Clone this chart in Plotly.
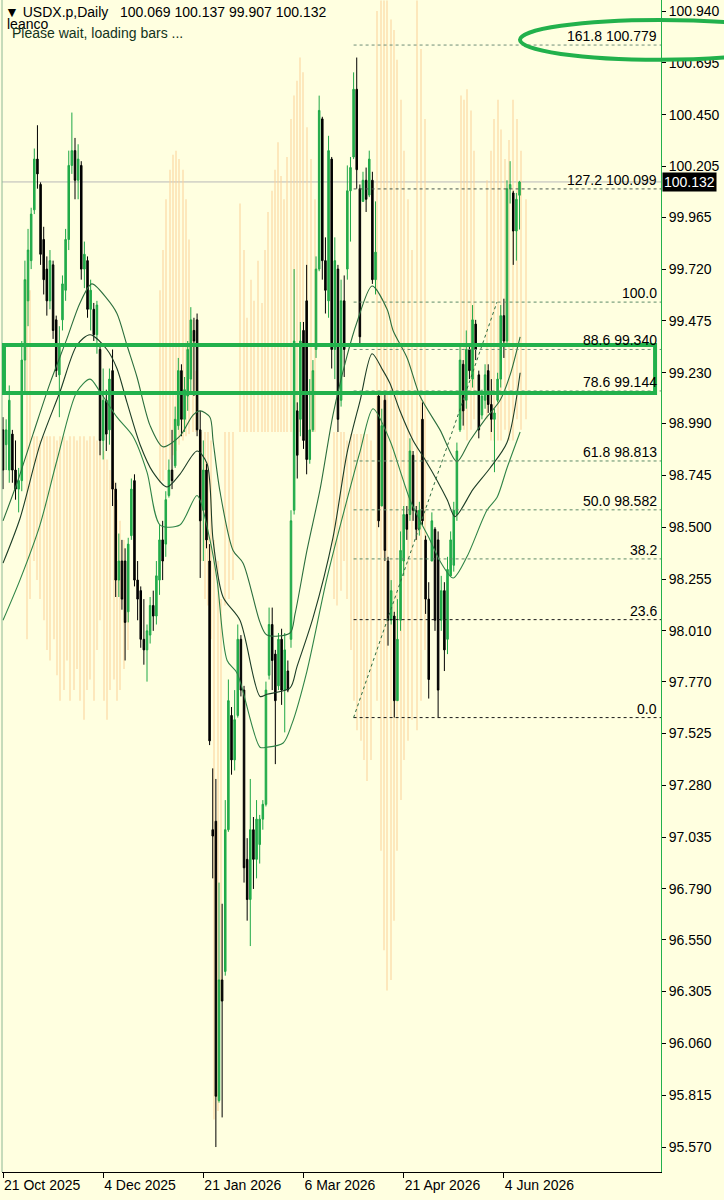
import plotly.graph_objects as go

# ---------------- data ----------------
tick_idx = [0, 32, 64, 96, 128, 160]
tick_dates = ["21 Oct 2025", "4 Dec 2025", "21 Jan 2026", "6 Mar 2026", "21 Apr 2026", "4 Jun 2026"]

price_ticks = [100.940, 100.695, 100.450, 100.205, 99.965, 99.720, 99.475, 99.230, 98.990,
               98.745, 98.500, 98.255, 98.010, 97.770, 97.525, 97.280, 97.035, 96.790,
               96.550, 96.305, 96.060, 95.815, 95.570]
price_tick_text = ["100.940", "100.695", "100.450", "100.205", "99.965", "99.720", "99.475",
                   "99.230", "98.990", "98.745", "98.500", "98.255", "98.010", "97.770",
                   "97.525", "97.280", "97.035", "96.790", "96.550", "96.305", "96.060",
                   "95.815", "95.570"]

opens = [98.96, 98.89, 98.77, 98.94, 98.77, 98.68, 98.72, 99.29, 99.57, 99.76,
         100.00, 100.24, 100.12, 99.86, 99.72, 99.57, 99.74, 99.48, 99.22, 99.48,
         99.62, 99.86, 100.21, 100.28, 100.14, 100.21, 99.72, 99.76, 99.53, 99.53,
         99.41, 99.34, 98.91, 99.10, 98.96, 99.24, 98.68, 98.25, 98.34, 98.34,
         98.10, 98.46, 98.72, 98.25, 98.20, 97.97, 97.92, 97.99, 98.13, 98.08,
         98.25, 98.44, 98.42, 98.65, 98.77, 98.79, 98.98, 99.24, 99.01, 99.12,
         99.20, 99.43, 99.48, 98.96, 98.58, 98.77, 98.34, 97.07, 97.11, 95.79,
         96.36, 96.40, 97.07, 97.61, 97.40, 97.61, 97.97, 97.73, 96.93, 96.74,
         97.07, 96.93, 97.00, 97.12, 97.19, 97.80, 98.04, 97.90, 97.75, 97.97,
         97.73, 97.82, 97.97, 98.58, 99.05, 99.01, 99.43, 99.57, 98.82, 98.96,
         99.34, 99.72, 100.43, 99.76, 99.57, 100.24, 99.34, 99.72, 99.10, 99.57,
         99.72, 100.09, 100.25, 100.57, 100.10, 100.04, 100.14, 100.07, 100.14, 99.67,
         99.12, 98.60, 99.10, 98.34, 98.06, 98.08, 97.68, 98.06, 98.34, 98.56,
         98.56, 98.84, 98.58, 98.49, 99.01, 98.44, 98.16, 98.34, 98.49, 98.44,
         98.06, 98.20, 97.97, 98.27, 98.32, 98.56, 98.96, 99.27, 99.10, 99.34,
         99.20, 99.46, 99.22, 99.03, 99.10, 99.24, 99.08, 99.01, 99.10, 99.20,
         99.50, 99.38, 100.10, 100.08, 99.90, 100.069]
highs = [99.02, 99.01, 99.17, 98.96, 98.91, 98.78, 99.38, 99.76, 99.91, 100.01,
         100.29, 100.40, 100.13, 99.92, 99.78, 99.81, 99.76, 99.50, 99.45, 99.69,
         99.91, 100.28, 100.46, 100.34, 100.31, 100.23, 99.85, 99.78, 99.67, 99.56,
         99.57, 99.36, 99.25, 99.15, 99.25, 99.34, 98.71, 98.47, 98.44, 98.40,
         98.45, 98.73, 98.75, 98.34, 98.22, 98.16, 98.04, 98.17, 98.20, 98.34,
         98.51, 98.53, 98.67, 98.82, 98.96, 99.07, 99.30, 99.27, 99.21, 99.38,
         99.54, 99.49, 99.51, 99.05, 98.91, 98.80, 98.42, 97.36, 97.31, 96.82,
         96.72, 97.21, 97.78, 97.65, 97.73, 98.04, 97.99, 97.75, 97.03, 97.31,
         97.13, 97.21, 97.14, 97.21, 97.77, 98.12, 98.12, 97.92, 98.00, 98.02,
         98.00, 97.87, 98.58, 99.72, 99.09, 99.47, 99.47, 99.74, 99.20, 99.29,
         99.78, 100.54, 100.44, 99.87, 100.35, 100.25, 99.87, 99.74, 99.67, 99.69,
         100.21, 100.25, 100.65, 100.72, 100.12, 100.18, 100.20, 100.28, 100.18, 100.04,
         99.14, 99.06, 99.14, 98.36, 98.25, 98.10, 98.16, 98.48, 98.60, 98.60,
         98.92, 98.86, 98.60, 98.62, 99.09, 98.46, 98.24, 98.57, 98.50, 98.48,
         98.27, 98.24, 98.36, 98.48, 98.62, 98.90, 99.37, 99.29, 99.43, 99.36,
         99.55, 99.48, 99.24, 99.15, 99.27, 99.27, 99.20, 99.06, 99.23, 99.55,
         99.58, 100.14, 100.23, 100.09, 100.08, 100.137]
lows = [98.68, 98.77, 98.71, 98.71, 98.63, 98.57, 98.67, 99.14, 99.45, 99.72,
        99.98, 100.10, 99.74, 99.60, 99.50, 99.53, 99.39, 99.21, 99.02, 99.43,
        99.57, 99.81, 100.17, 100.05, 100.05, 99.67, 99.63, 99.49, 99.43, 99.38,
        99.32, 98.84, 98.82, 98.86, 98.89, 98.60, 98.17, 98.17, 98.11, 97.87,
        98.05, 98.44, 98.22, 98.06, 97.93, 97.85, 97.77, 97.95, 98.01, 98.04,
        98.18, 98.25, 98.36, 98.64, 98.68, 98.78, 98.96, 98.93, 98.95, 99.05,
        99.14, 99.12, 98.93, 98.26, 98.34, 98.40, 97.47, 96.84, 95.57, 95.78,
        95.71, 96.38, 97.06, 97.33, 97.35, 97.60, 97.70, 96.82, 96.64, 96.52,
        96.79, 96.84, 96.91, 97.07, 97.18, 97.78, 97.73, 97.38, 97.73, 97.66,
        97.53, 97.72, 97.93, 98.56, 98.73, 98.93, 98.87, 98.75, 98.80, 98.95,
        99.30, 99.71, 99.67, 99.51, 99.49, 99.25, 99.20, 98.95, 99.07, 99.21,
        99.67, 99.85, 100.24, 100.10, 99.36, 100.04, 99.99, 100.06, 99.65, 99.60,
        98.50, 98.60, 98.34, 97.94, 98.04, 97.60, 97.68, 98.01, 98.27, 98.44,
        98.53, 98.53, 98.44, 98.46, 98.51, 98.09, 97.69, 98.34, 98.01, 97.60,
        98.01, 97.82, 97.90, 98.27, 98.29, 98.53, 98.95, 98.98, 99.06, 99.20,
        99.16, 99.29, 98.92, 99.01, 99.06, 99.04, 98.95, 98.76, 99.09, 99.16,
        99.30, 99.36, 100.03, 99.74, 99.76, 99.907]
closes = [98.77, 98.96, 99.10, 98.77, 98.68, 98.72, 99.29, 99.67, 99.81, 99.98,
          100.24, 100.17, 99.79, 99.67, 99.57, 99.76, 99.43, 99.24, 99.36, 99.65,
          99.86, 100.21, 100.28, 100.14, 100.24, 99.72, 99.79, 99.53, 99.62, 99.41,
          99.55, 98.91, 99.10, 98.94, 99.20, 98.68, 98.25, 98.34, 98.16, 98.05,
          98.42, 98.68, 98.25, 98.16, 97.97, 97.92, 98.01, 98.13, 98.08, 98.27,
          98.44, 98.34, 98.63, 98.77, 98.72, 99.01, 99.24, 99.01, 99.15, 99.34,
          99.48, 99.38, 98.96, 98.53, 98.77, 98.44, 97.49, 97.04, 95.81, 96.36,
          96.26, 97.07, 97.68, 97.40, 97.59, 97.97, 97.73, 96.89, 96.74, 97.07,
          96.93, 97.12, 97.12, 97.19, 97.73, 98.04, 97.87, 97.68, 97.97, 97.73,
          97.92, 97.73, 98.53, 99.38, 98.84, 99.38, 98.91, 98.82, 98.96, 99.24,
          99.72, 100.47, 99.76, 99.62, 100.28, 99.34, 99.76, 99.01, 99.57, 99.34,
          100.09, 100.20, 100.57, 100.19, 99.40, 100.14, 100.05, 100.24, 99.67, 99.80,
          98.53, 98.98, 98.39, 98.06, 98.20, 97.68, 97.97, 98.39, 98.56, 98.49,
          98.86, 98.58, 98.49, 98.58, 98.53, 98.16, 97.78, 98.53, 98.06, 97.73,
          98.20, 97.92, 98.30, 98.44, 98.58, 98.86, 99.29, 99.05, 99.34, 99.24,
          99.48, 99.34, 98.96, 99.12, 99.22, 99.08, 99.01, 99.04, 99.20, 99.50,
          99.38, 100.10, 100.12, 99.90, 100.05, 100.132]

# moving-average style envelope curves (bar index, price)
ma_top_x = [0, 4.5, 9.6, 15, 20.4, 24.6, 28.4, 33.2, 36.4, 39.6, 42.8, 47, 51.1, 56.5, 60.7,
            63, 66.1, 67.1, 69.3, 73.5, 76.7, 82.1, 84.3, 91.7, 93.3, 97.1, 101.3, 105.4,
            109.9, 113.1, 117.9, 122.7, 124.6, 129.1, 133.2, 139.6, 145, 149.2, 154,
            158.8, 162, 165.2]
ma_top_y = [98.53, 98.71, 98.94, 99.18, 99.39, 99.56, 99.65, 99.58, 99.51, 99.36, 99.21,
            98.98, 98.88, 98.93, 99.03, 99.05, 99.02, 98.91, 98.67, 98.39, 98.33, 98.05,
            97.99, 98.00, 98.09, 98.39, 98.68, 99.03, 99.31, 99.47, 99.64, 99.53, 99.43,
            99.30, 99.12, 98.96, 98.81, 98.91, 99.01, 99.10, 99.22, 99.40]
ma_mid_x = [0, 5.4, 11.8, 18.2, 23.6, 27.8, 33.2, 36.4, 39.6, 43.8, 47.9, 52.4, 56.5, 62,
            65.2, 67.1, 70.3, 75.7, 82.1, 84.3, 91.7, 93.9, 99, 105.4, 109.9, 114.1, 117.9,
            121.4, 123.6, 126.8, 131, 134.8, 138.7, 141.9, 144.4, 150.2, 155.6, 161, 165.2]
ma_mid_y = [98.33, 98.54, 98.89, 99.14, 99.36, 99.41, 99.34, 99.25, 99.09, 98.89, 98.76,
            98.69, 98.75, 98.86, 98.80, 98.44, 98.17, 98.06, 97.70, 97.71, 97.74, 97.84,
            98.07, 98.45, 98.85, 99.10, 99.32, 99.24, 99.18, 99.05, 98.91, 98.82, 98.72,
            98.63, 98.55, 98.68, 98.78, 98.90, 99.23]
ma_low_x = [0, 5.4, 11.8, 17.3, 23.6, 27.8, 31, 36.4, 41.5, 46, 50.2, 56.5, 62, 66.1, 68.4,
            71.6, 74.8, 82.1, 84.3, 89.5, 92.3, 97.1, 103.5, 109.9, 114.1, 118.2, 123.6,
            126.8, 130, 133.2, 136.4, 139.6, 143.8, 148.2, 154.6, 157.8, 161, 165.2]
ma_low_y = [98.06, 98.25, 98.51, 98.82, 99.14, 99.20, 99.14, 99.02, 98.93, 98.76, 98.51,
            98.51, 98.65, 98.44, 98.25, 97.87, 97.81, 97.46, 97.46, 97.48, 97.57, 97.82,
            98.26, 98.63, 98.86, 99.06, 98.91, 98.77, 98.63, 98.53, 98.44, 98.34, 98.26,
            98.36, 98.58, 98.64, 98.78, 98.95]

# faint orange background bars (bar index, top, bottom)
orange_x = [7.7, 8.6, 9.9, 10.9, 11.8, 13.1, 14.1, 15.0, 16.3, 17.3, 18.2, 19.5, 20.4, 21.4,
            22.7, 23.6, 24.6, 25.9, 26.8, 27.8, 29.1, 30.0, 31.0, 32.3, 33.2, 34.2, 35.5,
            36.4, 37.4, 38.7, 39.9,
            50.2, 51.1, 52.1, 53.4, 54.3, 55.3, 56.2, 57.5, 58.5, 59.4, 60.7, 61.7,
            63.3, 64.5, 65.5, 66.5, 67.4, 68.7, 69.6, 70.9, 72.2, 73.5,
            75.7, 77.0, 78.0, 79.2, 80.2, 81.5, 82.7, 83.7, 84.7, 85.9, 86.9, 87.9,
            88.8, 89.8, 90.7, 92.0, 93.0, 93.9, 94.9, 95.8, 97.1, 98.4, 99.7,
            105.8, 106.7, 108.0, 108.9, 109.9, 111.2, 112.1, 113.1, 114.4, 115.3, 116.3, 117.6,
            119.5, 120.8, 121.7, 122.7, 124.0, 124.9, 125.9, 127.2, 128.1, 129.4, 130.7,
            132.3, 133.5, 134.8,
            146.3, 147.3, 148.2, 149.5, 150.5,
            154.6, 155.9, 156.9, 158.1, 159.1, 160.4, 161.7, 162.9, 164.2, 165.5, 167.1]
orange_top = [99.67, 99.62, 98.93, 98.93, 98.91, 98.93, 98.93, 98.93, 98.93, 98.91, 98.93,
              98.93, 98.91, 98.93, 98.93, 98.91, 98.93, 98.93, 98.91, 98.93, 98.93, 98.91,
              98.91, 98.86, 98.82, 98.77, 98.72, 98.63, 98.53, 98.44, 98.34,
              99.62, 99.81, 100.05, 100.19, 100.26, 100.28, 100.24, 100.19, 100.05, 99.86,
              99.48, 99.24,
              98.95, 98.95, 98.95, 98.91, 98.44, 98.34, 98.16, 98.95, 98.95, 98.95,
              100.03, 99.81, 99.49, 99.67, 99.57, 99.76, 99.56, 99.81, 99.99, 100.09, 100.19,
              100.32,
              100.16, 100.05, 100.25, 100.43, 100.54, 100.61, 100.72, 100.65, 100.39, 100.24,
              100.05,
              98.95, 98.95, 98.95, 98.95, 98.91, 98.94, 98.94, 98.94, 98.94, 98.94, 98.94, 98.91,
              100.94, 100.99, 100.99, 100.99, 100.90, 100.85, 100.71, 100.52, 100.28, 100.05,
              99.81, 100.99, 100.76, 100.43,
              100.54, 100.52, 100.57, 100.47, 100.28,
              100.14, 100.28, 100.43, 100.52, 100.38, 100.24, 100.33, 100.52, 100.43, 100.28,
              100.05]
orange_bottom = [97.97, 98.16, 98.34, 98.25, 98.16, 98.06, 97.92, 97.87, 97.97, 97.80, 97.68,
                 97.73, 97.87, 97.68, 97.73, 97.83, 97.68, 97.59, 97.73, 97.78, 97.68, 97.92,
                 98.06, 97.68, 97.59, 97.73, 97.78, 97.68, 97.73, 97.83, 97.92,
                 98.71, 98.72, 98.77, 98.82, 98.84, 98.86, 98.89, 98.91, 98.93, 98.94, 98.95,
                 98.95,
                 98.34, 98.16, 98.13, 97.97, 95.70, 95.74, 96.26, 98.13, 98.16, 98.25,
                 98.95, 98.95, 98.95, 98.95, 98.95, 98.95, 98.95, 98.95, 98.95, 98.95, 98.95,
                 98.95,
                 98.95, 98.95, 98.95, 98.95, 98.95, 98.95, 98.95, 98.95, 98.95, 98.95, 98.95,
                 98.16, 98.13, 98.20, 98.34, 98.16, 97.92, 97.68, 97.54, 97.49, 97.40, 97.30,
                 97.40,
                 97.68, 96.97, 96.50, 96.31, 96.36, 96.64, 96.97, 97.21, 97.40, 97.49, 97.59,
                 97.54, 97.68, 97.92,
                 99.01, 98.96, 98.91, 98.96, 99.01,
                 99.01, 98.91, 98.91, 98.91, 98.91, 98.96, 98.91, 98.91, 99.01, 98.96, 99.01]

# Fibonacci retracement
fib_start_idx = 112
fib_pct = ["0.0", "23.6", "38.2", "50.0", "61.8", "78.6", "88.6", "100.0", "127.2", "161.8"]
fib_price = [97.600, 98.063, 98.350, 98.582, 98.813, 99.144, 99.340, 99.564, 100.099, 100.779]
fib_label = ["0.0", "23.6", "38.2", "50.0 98.582", "61.8 98.813", "78.6 99.144",
             "88.6 99.340", "100.0", "127.2 100.099", "161.8 100.779"]
fib_color = ["#1a1a1a", "#1a1a1a", "#5d8a68", "#5d8a68", "#5d8a68", "#6f8f78",
             "#6f8f78", "#5d8a68", "#4a5a50", "#6f8f78"]
trend_x = [112, 157.8]
trend_y = [97.600, 99.564]

last_price = 100.132
box_low, box_high = 99.134, 99.361

BG = "#FFFFE0"
GREEN = "#22b14c"
FONT = "Liberation Sans, Arial, sans-serif"

fig = go.Figure()

fig.add_trace(go.Bar(
    x=orange_x, base=orange_bottom,
    y=[t - b for t, b in zip(orange_top, orange_bottom)],
    width=0.34, marker=dict(color="#fcd39a", line=dict(width=0)),
    opacity=0.5, hoverinfo="skip"))

for xs, ys, col in [(ma_top_x, ma_top_y, "#2b6e3d"), (ma_mid_x, ma_mid_y, "#1c3d26"),
                    (ma_low_x, ma_low_y, "#2f8447")]:
    fig.add_trace(go.Scatter(x=xs, y=ys, mode="lines",
                             line=dict(color=col, width=1.1, shape="spline", smoothing=0.8),
                             hoverinfo="skip"))

for p, col in zip(fib_price, fib_color):
    fig.add_trace(go.Scatter(x=[fib_start_idx, 210.2], y=[p, p], mode="lines",
                             line=dict(color=col, width=1, dash="dot"), hoverinfo="skip"))
fig.add_trace(go.Scatter(x=trend_x, y=trend_y, mode="lines",
                         line=dict(color="#2d6b3f", width=1, dash="dot"), hoverinfo="skip"))

fig.add_trace(go.Candlestick(
    x=list(range(len(opens))), open=opens, high=highs, low=lows, close=closes,
    increasing=dict(line=dict(color="#1fa847", width=1), fillcolor=GREEN),
    decreasing=dict(line=dict(color="#000000", width=1), fillcolor="#000000"),
    whiskerwidth=0, hoverinfo="skip"))

shapes = [
    dict(type="line", xref="paper", yref="y", x0=0, x1=1, y0=last_price, y1=last_price,
         line=dict(color="#b8b8b8", width=1), layer="below"),
    dict(type="line", xref="paper", yref="paper", x0=0, x1=0, y0=0, y1=1,
         line=dict(color="#8cb894", width=1)),
    dict(type="rect", xref="paper", yref="y", x0=0.003, x1=0.991, y0=box_low, y1=box_high,
         line=dict(color=GREEN, width=4), fillcolor="rgba(0,0,0,0)"),
    dict(type="circle", xref="paper", yref="paper", x0=0.786, x1=1.21, y0=0.949, y1=0.983,
         line=dict(color=GREEN, width=4), fillcolor="rgba(0,0,0,0)"),
]

annotations = []
for p, lab in zip(fib_price, fib_label):
    annotations.append(dict(x=1, xref="paper", y=p, yref="y", text=lab, showarrow=False,
                            xanchor="right", yanchor="bottom", xshift=-2, yshift=-1,
                            font=dict(family=FONT, size=14, color="#000000")))
annotations.append(dict(x=1, xref="paper", y=last_price, yref="y", text="100.132",
                        showarrow=False, xanchor="left", yanchor="middle", xshift=1,
                        bgcolor="#000000", borderpad=1,
                        font=dict(family=FONT, size=14, color="#ffffff")))
annotations.append(dict(x=0.002, xref="paper", y=0.998, yref="paper",
                        text="▼\u00a0USDX.p,Daily\u00a0\u00a0 100.069 100.137 99.907 100.132",
                        showarrow=False, xanchor="left", yanchor="top",
                        font=dict(family=FONT, size=14, color="#000000")))
annotations.append(dict(x=0.004, xref="paper", y=0.988, yref="paper", text="leanco",
                        showarrow=False, xanchor="left", yanchor="top",
                        font=dict(family=FONT, size=14, color="#000000")))
annotations.append(dict(x=0.012, xref="paper", y=0.980, yref="paper",
                        text="Please wait, loading bars ...",
                        showarrow=False, xanchor="left", yanchor="top",
                        font=dict(family=FONT, size=14, color="#12331b")))

fig.update_layout(
    width=724, height=1200, autosize=False,
    margin=dict(l=2, r=63, t=0, b=28, autoexpand=False),
    paper_bgcolor=BG, plot_bgcolor=BG,
    showlegend=False, hovermode=False,
    font=dict(family=FONT, size=14, color="#000000"),
    shapes=shapes, annotations=annotations,
    xaxis=dict(range=[-0.32, 210.2], tickvals=tick_idx, ticktext=tick_dates,
               ticks="outside", ticklen=5, tickcolor="#000000", showgrid=False,
               zeroline=False, showline=True, linecolor="#000000", linewidth=1,
               ticklabelposition="outside right", rangeslider=dict(visible=False),
               automargin=False,
               tickfont=dict(family=FONT, size=14, color="#000000")),
    yaxis=dict(range=[95.452, 100.992], side="right", tickvals=price_ticks,
               ticktext=price_tick_text, ticks="outside", ticklen=4, tickcolor="#000000",
               showgrid=False, zeroline=False, showline=True, linecolor=GREEN, linewidth=1,
               automargin=False,
               tickfont=dict(family=FONT, size=14, color="#000000")),
)

fig.write_html("out.html", config={"displayModeBar": False},
               post_script="document.body.style.margin='0px';document.body.style.background='#FFFFE0';")
